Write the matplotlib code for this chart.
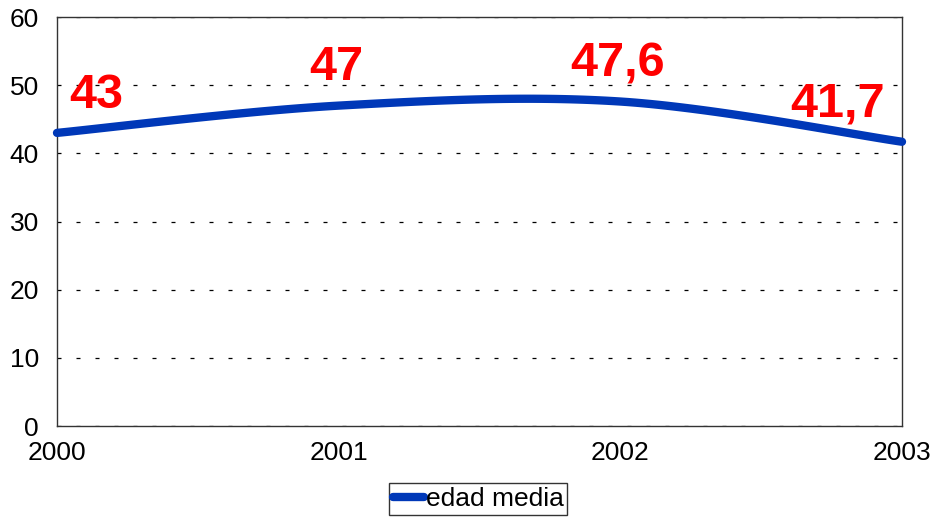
import numpy as np
import matplotlib
matplotlib.use("Agg")
import matplotlib.pyplot as plt
from matplotlib.lines import Line2D

plt.rcParams['font.family'] = ['Liberation Sans', 'DejaVu Sans']

years = [2000, 2001, 2002, 2003]
values = [43, 47, 47.6, 41.7]
labels = ["43", "47", "47,6", "41,7"]
yticks = [0, 10, 20, 30, 40, 50, 60]
series_name = "edad media"

def smooth(xs, ys, n=40):
    # Bezier smoothing (Excel-like), drawn through the data points
    xs = np.asarray(xs, float); ys = np.asarray(ys, float)
    px = np.concatenate([[xs[0]], xs, [xs[-1]]])
    py = np.concatenate([[ys[0]], ys, [ys[-1]]])
    ox, oy = [], []
    for i in range(1, len(px) - 2):
        p0 = np.array([px[i - 1], py[i - 1]]); p1 = np.array([px[i], py[i]])
        p2 = np.array([px[i + 1], py[i + 1]]); p3 = np.array([px[i + 2], py[i + 2]])
        c1 = p1 + (p2 - p0) / 6.0
        c2 = p2 - (p3 - p1) / 6.0
        t = np.linspace(0, 1, n)[:, None]
        b = ((1 - t) ** 3) * p1 + 3 * ((1 - t) ** 2) * t * c1 + 3 * (1 - t) * t ** 2 * c2 + t ** 3 * p2
        ox.extend(b[:, 0]); oy.extend(b[:, 1])
    return np.array(ox), np.array(oy)

fig = plt.figure(figsize=(9.36, 5.19), dpi=100)
ax = fig.add_axes([57 / 936, 1 - 426 / 519, (902 - 57) / 936, (426 - 17) / 519])

sx, sy = smooth(years, values)
color = "#0038B8"
ax.plot(sx, sy, color=color, lw=6.0, solid_capstyle='round', zorder=3, clip_on=False)

ax.set_xlim(2000, 2003)
ax.set_ylim(0, 60)
ax.set_yticks(yticks)
ax.set_xticks(years)
ax.set_xticklabels([str(y) for y in years])
ax.tick_params(axis='both', length=0, labelsize=19, colors='black')
ax.tick_params(axis='x', pad=11)
ax.tick_params(axis='y', pad=13)
ax.yaxis.grid(True, color='black', linestyle=(0, (3.2, 12)), lw=0.9)
ax.set_axisbelow(True)
for s in ax.spines.values():
    s.set_color('#333333'); s.set_linewidth(1.0)

offsets = [(0.14, 5.5), (-0.01, 5.6), (-0.01, 5.5), (-0.23, 5.5)]
for x, v, t, (dx, dy) in zip(years, values, labels, offsets):
    ax.text(x + dx, v + dy, t, color='#FF0000', fontsize=35, fontweight='bold',
            ha='center', va='center', zorder=4)

handle = Line2D([0], [0], color=color, lw=6.0, solid_capstyle='round')
leg = fig.legend([handle], [series_name], loc='center', bbox_to_anchor=(478 / 936, 1 - 499 / 519),
                 frameon=True, fancybox=False, fontsize=19, handlelength=1.2, handletextpad=0.05,
                 borderpad=0.15, borderaxespad=0)
leg.get_frame().set_edgecolor('black')
leg.get_frame().set_linewidth(1.0)

fig.savefig("out.png", dpi=100)
